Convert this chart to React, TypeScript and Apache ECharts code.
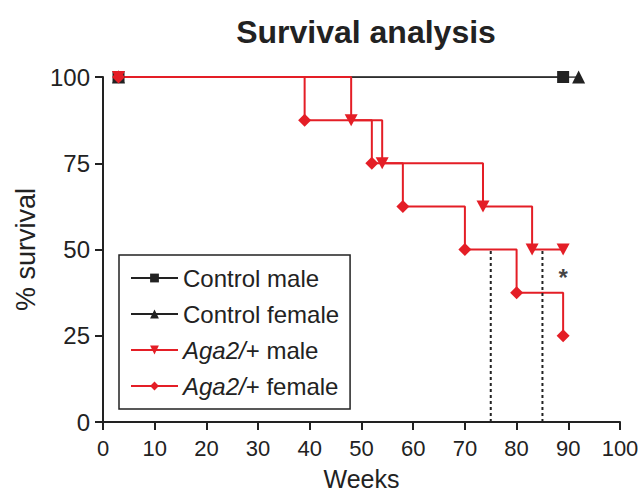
import React, { useEffect, useRef } from "react";
import * as echarts from "echarts";

const xTicks = [0, 10, 20, 30, 40, 50, 60, 70, 80, 90, 100];
const yTicks = [0, 25, 50, 75, 100];
const controlMale: [number, number][] = [[3, 100], [89, 100]];
const controlFemale: [number, number][] = [[3, 100], [92, 100]];
const agaMale: [number, number][] = [[3, 100], [48, 87.5], [54, 75], [73.5, 62.5], [83, 50], [89, 50]];
const agaFemale: [number, number][] = [[3, 100], [39, 87.5], [52, 75], [58, 62.5], [70, 50], [80, 37.5], [89, 25]];
const medianLines: [number, number][][] = [[[75, 0], [75, 50]], [[85, 0], [85, 50]]];
const asterisk: [number, number][] = [[89, 42]];
const seriesNames = ["Control male", "Control female", "Aga2/+ male", "Aga2/+ female"];

const RED = "#e41e26";
const BLACK = "#222222";
const FONT = "Liberation Sans, Arial, sans-serif";

export default function App() {
  const ref = useRef<HTMLDivElement>(null);
  useEffect(() => {
    const chart = echarts.init(ref.current!, undefined, { renderer: "svg" });
    const downTri = "path://M0,0 L10,0 L5,9 Z";
    chart.setOption({
      animation: false,
      backgroundColor: "#ffffff",
      textStyle: { fontFamily: FONT },
      title: {
        text: "Survival analysis",
        left: 361,
        textAlign: "center",
        top: 11,
        textStyle: { fontSize: 32, fontWeight: "bold", color: BLACK, fontFamily: FONT },
      },
      grid: { left: 103, right: 19, top: 77, bottom: 71, outerBoundsMode: "none", containLabel: false },
      xAxis: {
        type: "value",
        min: xTicks[0],
        max: xTicks[xTicks.length - 1],
        interval: 10,
        name: "Weeks",
        nameLocation: "middle",
        nameGap: 45,
        nameTextStyle: { fontSize: 25, lineHeight: 24, color: BLACK, fontFamily: FONT },
        axisLine: { lineStyle: { color: BLACK, width: 2 } },
        axisTick: { length: 8, lineStyle: { color: BLACK, width: 2 } },
        axisLabel: { fontSize: 22, color: BLACK, margin: 15, fontFamily: FONT },
        splitLine: { show: false },
      },
      yAxis: {
        type: "value",
        min: yTicks[0],
        max: yTicks[yTicks.length - 1],
        interval: 25,
        name: "% survival",
        nameLocation: "middle",
        nameGap: 64,
        nameTextStyle: { fontSize: 27, color: BLACK, fontFamily: FONT },
        axisLine: { lineStyle: { color: BLACK, width: 2 } },
        axisTick: { length: 8, lineStyle: { color: BLACK, width: 2 } },
        axisLabel: { fontSize: 24, color: BLACK, margin: 13, fontFamily: FONT },
        splitLine: { show: false },
      },
      legend: {
        data: seriesNames,
        orient: "vertical",
        left: 119,
        top: 255,
        itemWidth: 47,
        itemHeight: 11,
        itemGap: 10,
        padding: [10, 11, 10, 11],
        borderColor: BLACK,
        borderWidth: 1.5,
        borderRadius: 0,
        textStyle: {
          fontSize: 24,
          lineHeight: 26,
          color: BLACK,
          fontFamily: FONT,
          rich: {
            i: { fontStyle: "italic", fontSize: 24, lineHeight: 26, color: BLACK, fontFamily: FONT },
            n: { fontSize: 24, lineHeight: 26, color: BLACK, fontFamily: FONT },
          },
        },
        formatter: (name: string) =>
          name.startsWith("Aga2/") ? `{i|Aga2/}{n|${name.slice(5)}}` : name,
      },
      series: [
        {
          name: seriesNames[0],
          type: "line",
          data: controlMale,
          step: "end",
          symbol: "rect",
          symbolSize: 12,
          itemStyle: { color: BLACK },
          lineStyle: { color: BLACK, width: 1.5 },
        },
        {
          name: seriesNames[1],
          type: "line",
          data: controlFemale,
          step: "end",
          symbol: "triangle",
          symbolSize: 13,
          itemStyle: { color: BLACK },
          lineStyle: { color: BLACK, width: 1.5 },
        },
        {
          name: seriesNames[2],
          type: "line",
          data: agaMale,
          step: "end",
          symbol: downTri,
          symbolSize: [13, 12],
          symbolKeepAspect: false,
          itemStyle: { color: RED },
          lineStyle: { color: RED, width: 2 },
        },
        {
          name: seriesNames[3],
          type: "line",
          data: agaFemale,
          step: "end",
          symbol: "diamond",
          symbolSize: 13,
          itemStyle: { color: RED },
          lineStyle: { color: RED, width: 2 },
        },
        ...medianLines.map((d) => ({
          type: "line",
          data: d,
          symbol: "none",
          silent: true,
          lineStyle: { color: BLACK, width: 2, type: [3, 3] },
        })),
        {
          type: "scatter",
          data: asterisk,
          symbolSize: 0,
          silent: true,
          label: {
            show: true,
            position: "inside",
            formatter: "*",
            fontSize: 24,
            fontWeight: "bold",
            color: "#111111",
            fontFamily: FONT,
          },
        },
      ],
    });
    return () => chart.dispose();
  }, []);
  return (
    <div
      ref={ref}
      style={{ position: "absolute", left: 0, top: 0, width: 639, height: 493 }}
    />
  );
}
